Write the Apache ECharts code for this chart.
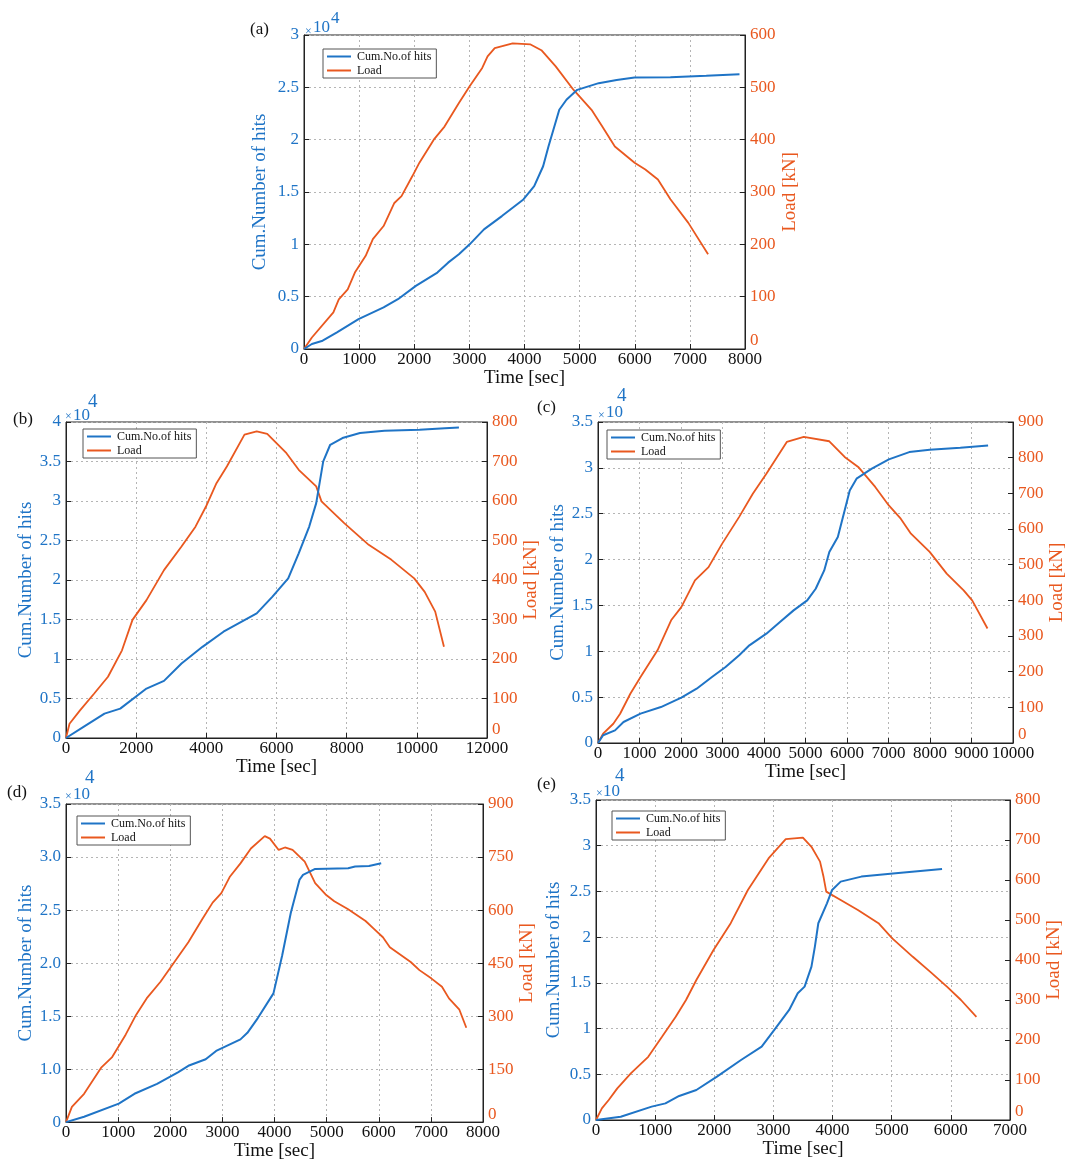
<!DOCTYPE html>
<html><head><meta charset="utf-8">
<script src="https://cdn.jsdelivr.net/npm/echarts@6/dist/echarts.min.js"></script>
<style>html,body{margin:0;padding:0;background:#fff}#c{width:1069px;height:1162px}</style>
</head><body><div id="c"></div>
<script>
// ---- Data: [time (sec), value]; hits in units of 10^4, load in kN ----
const hitsA = [[0,0],[143,0.048],[338,0.079],[598,0.159],[989,0.286],[1444,0.397],[1704,0.476],[2029,0.603],[2419,0.73],[2614,0.825],[2810,0.905],[3005,1.0],[3265,1.143],[3590,1.27],[3980,1.429],[4176,1.556],[4338,1.746],[4436,1.937],[4631,2.286],[4761,2.381],[4957,2.476],[5346,2.54],[5672,2.571],[5997,2.594],[6647,2.597],[7297,2.61],[7900,2.625]];
const loadA = [[0,0],[143,22],[533,70],[631,95],[793,114],[923,146],[1119,178],[1249,210],[1444,235],[1639,279],[1769,292],[1964,330],[2094,356],[2354,400],[2549,425],[2810,470],[3005,502],[3233,537],[3330,559],[3460,575],[3785,584],[4110,582],[4306,571],[4566,540],[4891,495],[5216,457],[5411,425],[5639,387],[5997,356],[6192,343],[6420,324],[6647,286],[6972,241],[7330,181]];

const hitsB = [[0,0],[499,0.14],[1097,0.309],[1546,0.372],[2294,0.626],[2793,0.723],[3292,0.943],[3890,1.154],[4489,1.345],[5436,1.577],[5885,1.789],[6334,2.021],[6633,2.338],[6933,2.677],[7132,2.973],[7332,3.501],[7531,3.712],[7880,3.797],[8379,3.861],[9077,3.89],[10075,3.902],[10800,3.92],[11200,3.93]];
const loadB = [[0,0],[100,36],[399,70],[798,112],[1197,155],[1596,222],[1895,299],[2294,349],[2793,425],[3292,485],[3691,535],[3990,586],[4289,645],[4589,688],[5087,768],[5436,776],[5736,770],[6284,721],[6633,679],[7132,637],[7282,599],[7930,544],[8628,489],[9277,451],[9925,404],[10224,370],[10524,320],[10773,231]];

const hitsC = [[0,0],[123,0.084],[410,0.138],[615,0.229],[1025,0.32],[1516,0.392],[2008,0.494],[2377,0.592],[2746,0.719],[3074,0.828],[3402,0.956],[3648,1.065],[4057,1.192],[4385,1.319],[4713,1.446],[5041,1.555],[5246,1.682],[5451,1.882],[5574,2.082],[5779,2.246],[5943,2.536],[6066,2.754],[6230,2.882],[6598,2.991],[7008,3.092],[7500,3.172],[7992,3.198],[8730,3.22],[9400,3.245]];
const loadC = [[0,0],[123,26],[369,54],[533,82],[779,138],[1025,185],[1434,260],[1762,344],[2008,381],[2336,456],[2664,493],[2992,559],[3402,634],[3730,699],[4057,755],[4549,844],[4959,858],[5574,846],[5943,802],[6270,774],[6680,718],[7008,666],[7295,629],[7541,587],[7992,536],[8402,475],[8811,428],[9016,400],[9385,321]];

const hitsD = [[0,0.5],[347,0.55],[1013,0.674],[1313,0.767],[1747,0.86],[2147,0.969],[2347,1.031],[2680,1.093],[2880,1.171],[3347,1.28],[3480,1.342],[3680,1.481],[3980,1.714],[4147,2.071],[4313,2.475],[4480,2.786],[4547,2.832],[4780,2.888],[5413,2.894],[5547,2.91],[5813,2.916],[6047,2.941]];
const loadD = [[0,0],[113,43],[347,80],[680,155],[880,183],[1147,248],[1347,304],[1547,350],[1813,397],[2080,453],[2347,509],[2613,574],[2813,621],[2980,648],[3147,695],[3347,732],[3547,774],[3813,809],[3913,802],[4080,770],[4200,777],[4347,770],[4580,737],[4780,676],[4980,644],[5147,625],[5413,602],[5747,569],[5913,546],[6080,523],[6213,495],[6613,453],[6780,430],[7013,406],[7213,383],[7347,350],[7547,318],[7680,267]];

const hitsE = [[0,0],[418,0.036],[941,0.146],[1174,0.182],[1406,0.263],[1697,0.328],[2045,0.474],[2452,0.656],[2801,0.802],[3034,1.003],[3266,1.204],[3411,1.386],[3527,1.459],[3643,1.678],[3701,1.897],[3759,2.152],[3905,2.37],[3992,2.516],[4137,2.607],[4486,2.662],[5067,2.698],[5851,2.745]];
const loadE = [[0,0],[99,29],[215,50],[360,79],[593,117],[883,158],[1116,208],[1348,258],[1522,300],[1697,350],[1987,425],[2278,492],[2568,575],[2917,654],[3208,702],[3498,706],[3643,683],[3788,646],[3847,608],[3893,571],[4137,550],[4428,525],[4776,492],[5009,454],[5357,408],[5648,371],[5938,333],[6171,300],[6432,258]];

// tick labels for panel (d) left axis, as printed on the figure
const hitsTickLabelsD = ['0','1.0','1.5','2.0','2.5','3.0','3.5'];

const panelLabels = ['(a)','(b)','(c)','(d)','(e)'];
const seriesNames = ['Cum.No.of hits','Load'];

// ---- Styling / layout ----
const BLUE = '#1f74c6', ORANGE = '#e9581f';
const FONT = 'Liberation Serif';

const panels = [
  {grid:{left:304,top:35,width:441,height:314}, x:[0,8000,1000], yl:[0,3,0.5], yr:[0,600,100],
   hits:hitsA, load:loadA, lgap:34, rgap:36, xgap:20, legend:{left:323,top:49},
   lab:[250,21.5], times:[305,26], ten:[313,19], sup:[331,10.5,17]},
  {grid:{left:66,top:422,width:421,height:316}, x:[0,12000,2000], yl:[0,4,0.5], yr:[0,800,100],
   hits:hitsB, load:loadB, lgap:23, rgap:29, xgap:19, legend:{left:83,top:429},
   lab:[13,411], times:[65,411], ten:[73,407.5], sup:[88,393,19]},
  {grid:{left:598,top:422,width:415,height:321}, x:[0,10000,1000], yl:[0,3.5,0.5], yr:[0,900,100],
   hits:hitsC, load:loadC, lgap:22, rgap:35, xgap:20, legend:{left:607,top:430},
   lab:[537,399], times:[598,410], ten:[606,404], sup:[617,386.5,19]},
  {grid:{left:66,top:804,width:417,height:321}, x:[0,8000,1000], yl:[0.5,3.5,0.5], yr:[0,900,150],
   hits:hitsD, load:loadD, lgap:23, rgap:30, xgap:18, legend:{left:77,top:816}, ticks:hitsTickLabelsD,
   lab:[7,784], times:[65,791], ten:[73,786], sup:[85,769,19]},
  {grid:{left:596,top:800,width:414,height:320}, x:[0,7000,1000], yl:[0,3.5,0.5], yr:[0,800,100],
   hits:hitsE, load:loadE, lgap:32, rgap:34, xgap:18, legend:{left:612,top:811},
   lab:[537,776], times:[596,788], ten:[603,783], sup:[615,767,19]}
];

const grids=[], xAxes=[], yAxes=[], series=[], legends=[], titles=[];
const tickStyle = {show:true, inside:true, length:5, lineStyle:{color:'#222'}};
const lineAxis = {show:true, lineStyle:{color:'#222', width:1}};
const dotted = {show:true, lineStyle:{color:'#b5b5b5', type:[2,3], width:1}};
const txt = (s, l, t, size, color) => ({text:s, left:l, top:t, padding:0,
  textStyle:{fontFamily:FONT, fontSize:size, fontWeight:'normal', color:color}});

panels.forEach((p,i)=>{
  grids.push(Object.assign({show:true, borderColor:'#222', borderWidth:1, backgroundColor:'#fff'}, p.grid));
  xAxes.push({type:'value', gridIndex:i, min:p.x[0], max:p.x[1], interval:p.x[2],
    name:'Time [sec]', nameLocation:'middle', nameGap:p.xgap,
    nameTextStyle:{fontFamily:FONT, fontSize:19, color:'#111'},
    axisLine:lineAxis, axisTick:tickStyle, splitLine:dotted,
    axisLabel:{fontFamily:FONT, fontSize:17, color:'#111', margin:2, formatter:v=>String(v)}});
  const ylabel = {fontFamily:FONT, fontSize:17, color:BLUE, margin:5};
  if (p.ticks) { const t=p.ticks; ylabel.formatter = v => t[Math.round((v-p.yl[0])/p.yl[2])]; }
  yAxes.push({type:'value', gridIndex:i, position:'left', min:p.yl[0], max:p.yl[1], interval:p.yl[2],
    name:'Cum.Number of hits', nameLocation:'middle', nameGap:p.lgap, nameRotate:90,
    nameTextStyle:{fontFamily:FONT, fontSize:19, color:BLUE},
    axisLine:lineAxis, axisTick:tickStyle, splitLine:dotted, axisLabel:ylabel});
  yAxes.push({type:'value', gridIndex:i, position:'right', min:p.yr[0], max:p.yr[1], interval:p.yr[2],
    name:'Load [kN]', nameLocation:'middle', nameGap:p.rgap, nameRotate:90,
    nameTextStyle:{fontFamily:FONT, fontSize:19, color:ORANGE},
    axisLine:lineAxis, axisTick:tickStyle, splitLine:{show:false},
    axisLabel:{fontFamily:FONT, fontSize:17, color:ORANGE, margin:5,
      formatter:v => v===0 ? '{z|0}' : String(v),
      rich:{z:{fontFamily:FONT, fontSize:17, color:ORANGE, padding:[0,0,16,0]}}}});
  series.push({name:seriesNames[0], type:'line', xAxisIndex:i, yAxisIndex:2*i, data:p.hits,
    symbol:'none', smooth:false, lineStyle:{color:BLUE, width:2}, itemStyle:{color:BLUE}, z:3});
  series.push({name:seriesNames[1], type:'line', xAxisIndex:i, yAxisIndex:2*i+1, data:p.load,
    symbol:'none', smooth:false, lineStyle:{color:ORANGE, width:1.8}, itemStyle:{color:ORANGE}, z:2});
  legends.push({left:p.legend.left, top:p.legend.top, orient:'vertical', data:seriesNames,
    icon:'rect', itemWidth:24, itemHeight:2, itemGap:1, padding:[1,5,1,4],
    backgroundColor:'#fff', borderColor:'#555', borderWidth:1, borderRadius:0,
    textStyle:{fontFamily:FONT, fontSize:12, lineHeight:13, color:'#111', padding:[0,0,0,1]}, selectedMode:false});
  titles.push(txt(panelLabels[i], p.lab[0], p.lab[1], 17, '#111'));
  titles.push(txt('×', p.times[0], p.times[1], 12, BLUE));
  titles.push(txt('10', p.ten[0], p.ten[1], 17, BLUE));
  titles.push(txt('4', p.sup[0], p.sup[1], p.sup[2], BLUE));
});

const chart = echarts.init(document.getElementById('c'), null, {renderer:'canvas'});
chart.setOption({
  backgroundColor:'#fff', animation:false,
  title:titles, legend:legends, grid:grids, xAxis:xAxes, yAxis:yAxes, series:series
});
</script></body></html>
